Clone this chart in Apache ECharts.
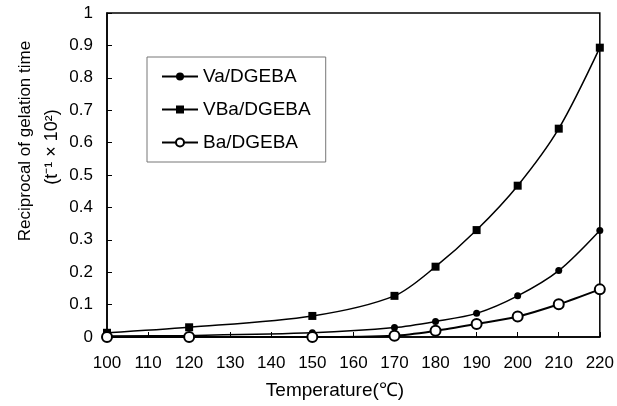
<!DOCTYPE html>
<html>
<head>
<meta charset="utf-8">
<script src="https://cdn.jsdelivr.net/npm/echarts@6/dist/echarts.min.js"></script>
<style>
  html, body { margin: 0; padding: 0; background: #fff; }
  #chart { width: 617px; height: 406px; }
</style>
</head>
<body>
<div id="chart"></div>
<script>
// Gelation kinetics: reciprocal of gelation time vs cure temperature
const temperatures = [100, 120, 150, 170, 180, 190, 200, 210, 220];
const vaDgeba  = [0.003, 0.005, 0.013, 0.029, 0.048, 0.073, 0.127, 0.205, 0.329];
const vbaDgeba = [0.013, 0.030, 0.065, 0.127, 0.217, 0.330, 0.467, 0.643, 0.893];
const baDgeba  = [0.000, 0.000, 0.000, 0.004, 0.019, 0.040, 0.063, 0.101, 0.147];
const seriesNames = ['Va/DGEBA', 'VBa/DGEBA', 'Ba/DGEBA'];

const pairs = (ys) => temperatures.map((t, i) => [t, ys[i]]);
const font = 'Liberation Sans, Arial, sans-serif';

const chart = echarts.init(document.getElementById('chart'));
chart.setOption({
  animation: false,
  backgroundColor: '#fff',
  grid: { left: 107, right: 13, top: 13, bottom: 69, show: true, borderColor: '#000', borderWidth: 1.5 },
  xAxis: {
    type: 'value', min: 100, max: 220, interval: 10,
    axisLine: { lineStyle: { color: '#000', width: 1.5 } },
    axisTick: { inside: true, length: 5, lineStyle: { color: '#000' } },
    axisLabel: { color: '#000', fontSize: 17, fontFamily: font, margin: 18 },
    splitLine: { show: false }
  },
  yAxis: {
    type: 'value', min: 0, max: 1, interval: 0.1,
    axisLine: { lineStyle: { color: '#000', width: 1.5 } },
    axisTick: { inside: true, length: 5, lineStyle: { color: '#000' } },
    axisLabel: { color: '#000', fontSize: 17, fontFamily: font, margin: 14,
      formatter: (v) => String(Math.round(v * 10) / 10) },
    splitLine: { show: false }
  },
  legend: {
    orient: 'vertical', left: 147, top: 57,
    padding: [10, 15, 10, 14],
    itemGap: 14,
    itemWidth: 36, itemHeight: 10,
    borderColor: '#777', borderWidth: 1,
    textStyle: { color: '#000', fontSize: 19, fontFamily: font },
    data: seriesNames
  },
  graphic: [
    { type: 'text', x: 25, y: 141, rotation: Math.PI / 2,
      style: { text: 'Reciprocal of gelation time', fill: '#000', fontSize: 17, fontFamily: font,
        textAlign: 'center', textVerticalAlign: 'middle' } },
    { type: 'text', x: 52, y: 147, rotation: Math.PI / 2,
      style: { text: '(t⁻¹ × 10²)', fill: '#000', fontSize: 18, fontFamily: font,
        textAlign: 'center', textVerticalAlign: 'middle' } },
    { type: 'text', x: 335, y: 391,
      style: { text: 'Temperature(℃)', fill: '#000', fontSize: 19, fontFamily: font,
        textAlign: 'center', textVerticalAlign: 'middle' } }
  ],
  series: [
    { name: seriesNames[0], type: 'line', smooth: 0.3, data: pairs(vaDgeba),
      symbol: 'circle', symbolSize: 7, z: 3,
      lineStyle: { color: '#000', width: 1.5 }, itemStyle: { color: '#000' } },
    { name: seriesNames[1], type: 'line', smooth: 0.3, data: pairs(vbaDgeba),
      symbol: 'rect', symbolSize: 8, z: 3,
      lineStyle: { color: '#000', width: 1.5 }, itemStyle: { color: '#000' } },
    { name: seriesNames[2], type: 'line', smooth: 0.3, data: pairs(baDgeba),
      symbol: 'circle', symbolSize: 10, z: 4,
      lineStyle: { color: '#000', width: 2 },
      itemStyle: { color: '#fff', borderColor: '#000', borderWidth: 2 } }
  ]
});
</script>
</body>
</html>
